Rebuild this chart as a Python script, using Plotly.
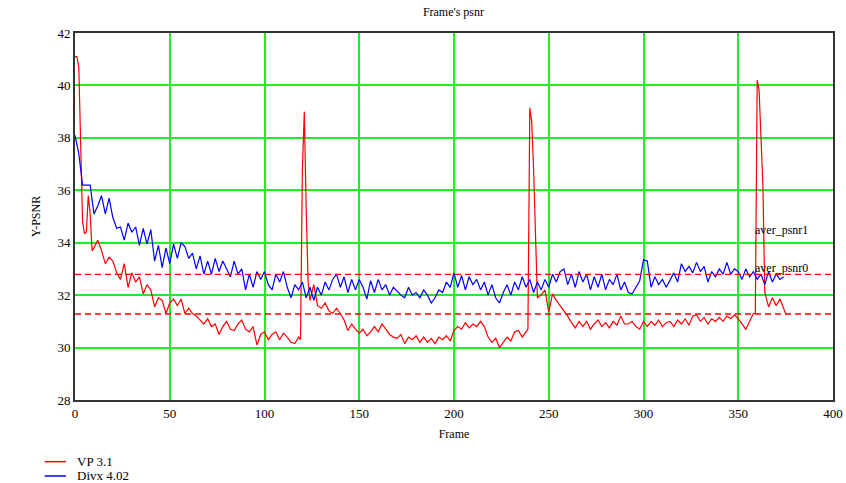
import plotly.graph_objects as go

# ---------------- data ----------------
divx_frames = list(range(0, 376, 2))
divx_psnr = [
    38.1, 37.4, 36.2, 36.2, 36.2, 35.1, 35.4, 35.8, 35.1, 35.7,
    34.95, 34.55, 34.6, 34.1, 34.75, 34.4, 34.6, 33.9, 34.55, 33.95,
    34.5, 33.3, 33.9, 33.05, 33.8, 33.2, 33.95, 33.4, 34.0, 33.85,
    33.4, 33.6, 33.0, 33.5, 32.8, 33.3, 32.8, 33.4, 32.9, 33.3,
    33.0, 32.7, 33.3, 32.8, 33.0, 32.2, 32.8, 32.3, 32.9, 32.6,
    32.9, 32.4, 32.2, 32.8, 32.5, 32.9, 32.3, 31.9, 32.4, 32.2,
    32.5, 31.9, 32.3, 31.8, 32.3, 32.0, 32.5, 32.2, 32.6, 32.8,
    32.3, 32.7, 32.1, 32.6, 32.2, 32.6, 32.3, 31.85, 32.55, 32.1,
    32.6, 32.2, 32.4, 32.0, 32.3, 32.15, 32.0, 31.9, 32.3, 32.0,
    32.1, 31.9, 32.2, 32.0, 31.7, 31.9, 32.2, 32.1, 32.5, 32.3,
    32.85, 32.3, 32.75, 32.2, 32.7, 32.4, 32.6, 32.2, 32.5, 32.0,
    32.4, 31.9, 31.7, 32.1, 32.4, 32.0, 32.5, 32.2, 32.7, 32.3,
    32.6, 32.1, 32.5, 32.2, 32.6, 32.3, 32.8, 32.5, 32.9, 33.0,
    32.4, 32.8, 32.3, 32.9, 32.5, 32.8, 32.2, 32.7, 32.3, 32.8,
    32.2, 32.6, 32.4, 32.8, 32.2, 32.5, 32.1, 32.05, 32.3, 32.55,
    33.35, 33.3, 32.3, 32.7, 32.4, 32.6, 32.3, 32.6, 32.85, 32.5,
    33.2, 32.9, 33.1, 32.85, 33.25, 32.9, 33.1, 32.5, 32.9, 32.7,
    33.0, 32.8, 33.25, 32.8, 33.0, 32.9, 32.6, 33.0, 32.7, 32.9,
    32.6, 32.8, 32.4, 32.9, 32.5, 32.8, 32.6, 32.7,
]

vp_frames = [
    0, 1, 2, 3, 4, 5, 6, 7, 8, 9,
    10, 12, 14, 16, 18, 20, 22, 24, 26, 28, 30, 32, 34, 36, 38, 40,
    42, 44, 46, 48, 50, 52, 54, 56, 58, 60, 62, 64, 66, 68, 70, 72,
    74, 76, 78, 80, 82, 84, 86, 88, 90, 92, 94, 96, 98, 100, 102, 104,
    106, 108, 110, 112, 114, 116, 118, 119, 120, 121, 122, 123, 124,
    126, 128, 130, 132, 134, 136, 138, 140, 142, 144, 146, 148, 150,
    152, 154, 156, 158, 160, 162, 164, 166, 168, 170, 172, 174, 176,
    178, 180, 182, 184, 186, 188, 190, 192, 194, 196, 198, 200, 202,
    204, 206, 208, 210, 212, 214, 216, 218, 220, 222, 224, 226, 228,
    230, 232, 234, 236, 238, 239, 240, 241, 242, 243, 244, 246, 248,
    250, 252, 254, 256, 258, 260, 262, 264, 266, 268, 270, 272, 274,
    276, 278, 280, 282, 284, 286, 288, 290, 292, 294, 296, 298, 300,
    302, 304, 306, 308, 310, 312, 314, 316, 318, 320, 322, 324, 326,
    328, 330, 332, 334, 336, 338, 340, 342, 344, 346, 348, 350, 352,
    354, 356, 358, 359, 360, 361, 362, 363, 364, 366, 368, 370, 372,
    374, 375,
]
vp_psnr = [
    41.1, 41.1, 40.7, 37.85, 34.8, 34.35, 34.4, 35.8, 35.1, 33.7,
    33.8, 34.1, 33.7, 33.2, 33.45, 33.3, 32.85, 32.6, 33.2, 32.3, 32.85, 32.5, 32.7, 32.05, 32.4, 32.2,
    31.55, 31.9, 31.8, 31.3, 31.7, 31.85, 31.6, 31.85, 31.3, 31.5, 31.3, 31.2, 31.05, 30.9, 31.1, 30.8,
    30.9, 30.5, 30.8, 31.0, 30.7, 30.65, 30.9, 31.05, 30.7, 30.6, 30.8, 30.1, 30.5, 30.6, 30.3, 30.5,
    30.6, 30.3, 30.55, 30.4, 30.2, 30.15, 30.4, 30.3, 36.8, 39.0, 35.3, 32.5, 31.8,
    32.4, 31.6, 31.5, 31.7, 31.4, 31.3, 31.5, 31.3, 31.05, 30.65, 30.9, 30.7, 30.55,
    30.7, 30.45, 30.6, 30.8, 30.6, 30.9, 30.7, 30.5, 30.4, 30.35, 30.5, 30.15, 30.4,
    30.3, 30.45, 30.2, 30.4, 30.2, 30.35, 30.15, 30.4, 30.3, 30.45, 30.25, 30.65, 30.8,
    30.7, 30.95, 30.75, 30.9, 30.8, 31.0, 30.8, 30.4, 30.2, 30.35, 30.0, 30.2, 30.4,
    30.25, 30.6, 30.65, 30.4, 30.6, 30.7, 39.15, 38.6, 36.8, 34.4, 31.9, 32.0, 32.2,
    31.35, 32.05, 31.8, 31.6, 31.4, 31.2, 30.95, 30.75, 31.0, 30.8, 31.0, 30.7, 30.9,
    31.05, 30.8, 30.95, 30.75, 31.0, 30.85, 31.2, 30.9, 30.9, 31.0, 30.8, 30.7, 31.0,
    30.8, 31.0, 30.85, 31.05, 30.8, 30.95, 31.0, 30.8, 31.05, 30.9, 31.1, 30.85, 31.2,
    31.25, 31.0, 31.15, 30.9, 31.1, 31.0, 31.15, 31.0, 31.2, 31.1, 31.25, 31.1, 30.9,
    30.7, 31.0, 31.3, 31.3, 40.2, 39.8, 37.9, 36.2, 32.1, 31.55, 31.9, 31.6, 31.85,
    31.5, 31.3,
]

aver_psnr1 = 32.79
aver_psnr0 = 31.28

x_ticks = [0, 50, 100, 150, 200, 250, 300, 350, 400]
y_ticks = [28, 30, 32, 34, 36, 38, 40, 42]

RED = "#ff0000"
BLUE = "#0000ff"
GRID = "#22ee22"
SERIF = "Liberation Serif, Times New Roman, serif"

fig = go.Figure()

fig.add_trace(go.Scatter(x=vp_frames, y=vp_psnr, mode="lines", name="VP 3.1",
                         line=dict(color=RED, width=1.2), showlegend=False))
fig.add_trace(go.Scatter(x=divx_frames, y=divx_psnr, mode="lines", name="Divx 4.02",
                         line=dict(color=BLUE, width=1.2), showlegend=False))

for v in (aver_psnr1, aver_psnr0):
    fig.add_trace(go.Scatter(x=[x_ticks[0], x_ticks[-1]], y=[v, v], mode="lines",
                             line=dict(color=RED, width=1.3, dash="6px,4px"),
                             showlegend=False, hoverinfo="skip"))

fig.add_annotation(x=373, y=34.48, text="aver_psnr1", showarrow=False,
                   font=dict(family=SERIF, size=12, color="black"))
fig.add_annotation(x=373, y=33.03, text="aver_psnr0", showarrow=False,
                   font=dict(family=SERIF, size=12, color="black"))

# manual legend
legend_items = [("VP 3.1", RED, -0.168), ("Divx 4.02", BLUE, -0.207)]
for label, col, yp in legend_items:
    fig.add_shape(type="line", xref="paper", yref="paper", x0=-0.04, x1=-0.012,
                  y0=yp, y1=yp, line=dict(color=col, width=1.5))
    fig.add_annotation(xref="paper", yref="paper", x=0.0, y=yp, text=label,
                       showarrow=False, xanchor="left", yanchor="middle",
                       font=dict(family=SERIF, size=13, color="black"))

fig.update_layout(
    width=846, height=483,
    margin=dict(l=75, r=13, t=33, b=83, autoexpand=False),
    paper_bgcolor="white", plot_bgcolor="white",
    title=dict(text="Frame's psnr", x=0.536, xanchor="center", y=0.975, yanchor="middle",
               font=dict(family=SERIF, size=12, color="black")),
    font=dict(family=SERIF, size=13, color="black"),
)
fig.update_xaxes(range=[0, 400], tickvals=x_ticks, showgrid=True, gridcolor=GRID, gridwidth=1.5,
                 zeroline=False, showline=True, linecolor="#333333", linewidth=2, mirror=True,
                 ticks="", ticklen=0, automargin=False,
                 title=dict(text="Frame", font=dict(family=SERIF, size=12), standoff=10))
fig.update_yaxes(range=[28, 42], tickvals=y_ticks, showgrid=True, gridcolor=GRID, gridwidth=1.5,
                 zeroline=False, showline=True, linecolor="#333333", linewidth=2, mirror=True,
                 ticks="", ticklen=0, automargin=False,
                 title=dict(text="Y-PSNR", font=dict(family=SERIF, size=12), standoff=14))

fig.write_html(
    "out.html",
    config={"displayModeBar": False},
    post_script="document.body.style.margin='0';document.documentElement.style.overflow='hidden';",
)
